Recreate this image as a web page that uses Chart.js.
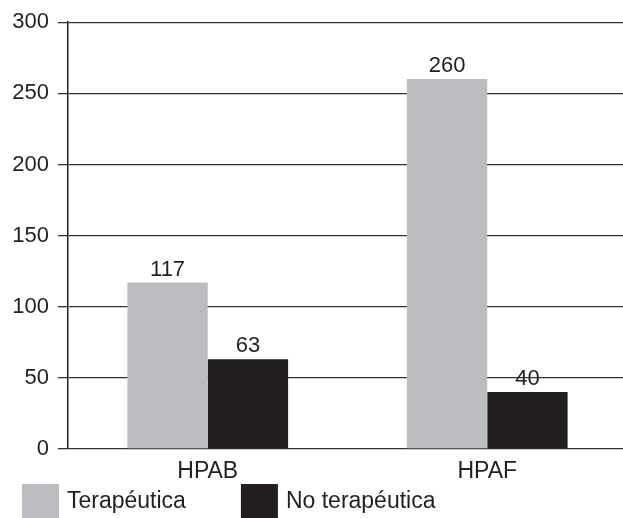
<!DOCTYPE html>
<html>
<head>
<meta charset="utf-8">
<script src="https://cdn.jsdelivr.net/npm/chart.js@4"></script>
<style>
  html, body { margin: 0; padding: 0; background: #fff; overflow: hidden; }
  #wrap { width: 623px; height: 518px; overflow: hidden; }
</style>
</head>
<body>
<div id="wrap"><canvas id="myChart" width="627" height="518"></canvas></div>
<script>
    const categories = ['HPAB', 'HPAF'];
    const terapeutica = [117, 260];
    const noTerapeutica = [63, 40];
    const seriesNames = ['Terapéutica', 'No terapéutica'];
    const yTicks = [0, 50, 100, 150, 200, 250, 300];

    const FONT = '"Liberation Sans", Arial, sans-serif';
    const GREY = '#bbbcbf';
    const DARK = '#231f20';

    // value labels over each bar
    const barLabels = {
        id: 'barLabels',
        afterDatasetsDraw(chart) {
            const ctx = chart.ctx;
            ctx.save();
            ctx.font = '22px ' + FONT;
            ctx.fillStyle = DARK;
            ctx.textAlign = 'center';
            ctx.textBaseline = 'bottom';
            chart.data.datasets.forEach((ds, i) => {
                chart.getDatasetMeta(i).data.forEach((bar, j) => {
                    ctx.fillText(ds.data[j], bar.x, bar.y - 2);
                });
            });
            ctx.restore();
        }
    };

    // legend at the bottom left, square swatches
    const bottomLegend = {
        id: 'bottomLegend',
        afterDraw(chart) {
            const ctx = chart.ctx;
            ctx.save();
            ctx.font = '23px ' + FONT;
            ctx.textBaseline = 'middle';
            let x = 22;
            const top = 484, box = 37, boxH = 34;
            chart.data.datasets.forEach(ds => {
                ctx.fillStyle = ds.backgroundColor;
                ctx.fillRect(x, top, box, boxH);
                ctx.fillStyle = DARK;
                ctx.fillText(ds.label, x + box + 8, top + boxH / 2 + 1);
                x += box + 8 + ctx.measureText(ds.label).width + 55;
            });
            ctx.restore();
        }
    };

    new Chart(document.getElementById('myChart'), {
        type: 'bar',
        data: {
            labels: categories,
            datasets: [
                { label: seriesNames[0], data: terapeutica, backgroundColor: GREY },
                { label: seriesNames[1], data: noTerapeutica, backgroundColor: DARK }
            ]
        },
        options: {
            responsive: false,
            animation: false,
            layout: { padding: { top: 20, right: 0, bottom: 0, left: 0 } },
            categoryPercentage: 0.575,
            barPercentage: 1,
            plugins: {
                legend: { display: false },
                tooltip: { enabled: false }
            },
            scales: {
                x: {
                    grid: { display: false },
                    border: { display: false },
                    ticks: { color: DARK, font: { family: FONT, size: 23 }, padding: 1 },
                    afterFit(scale) { scale.height = 69; }
                },
                y: {
                    min: 0,
                    max: 300,
                    afterBuildTicks(scale) { scale.ticks = yTicks.map(v => ({ value: v })); },
                    grid: { color: '#333', lineWidth: 1.3, tickLength: 10 },
                    border: { display: true, color: DARK, width: 1.5 },
                    ticks: { color: DARK, font: { family: FONT, size: 22 }, padding: 9 },
                    afterFit(scale) { scale.width = 68; }
                }
            }
        },
        plugins: [barLabels, bottomLegend]
    });
</script>
</body>
</html>
